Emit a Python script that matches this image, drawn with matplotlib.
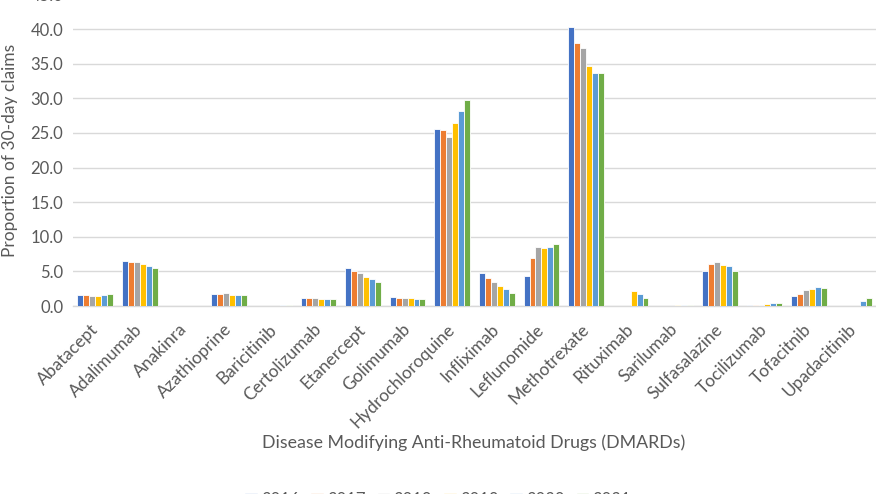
import matplotlib
matplotlib.use("Agg")
import matplotlib.pyplot as plt
import numpy as np

plt.rcParams['font.family'] = ['Lato', 'DejaVu Sans']

drugs = ["Abatacept", "Adalimumab", "Anakinra", "Azathioprine", "Baricitinib",
         "Certolizumab", "Etanercept", "Golimumab", "Hydrochloroquine", "Infliximab",
         "Leflunomide", "Methotrexate", "Rituximab", "Sarilumab", "Sulfasalazine",
         "Tocilizumab", "Tofacitnib", "Upadacitinib"]
years = ["2016", "2017", "2018", "2019", "2020", "2021"]

v2016 = [1.6, 6.5, 0.0, 1.75, 0.0, 1.2, 5.5, 1.25, 25.5, 4.7, 4.4, 40.3, 0.0, 0.0, 5.1, 0.2, 1.4, 0.0]
v2017 = [1.6, 6.4, 0.0, 1.75, 0.0, 1.15, 5.1, 1.2, 25.4, 4.1, 6.9, 38.0, 0.0, 0.03, 6.0, 0.2, 1.8, 0.0]
v2018 = [1.5, 6.3, 0.0, 1.85, 0.02, 1.15, 4.7, 1.2, 24.4, 3.5, 8.5, 37.3, 0.0, 0.05, 6.3, 0.2, 2.3, 0.0]
v2019 = [1.5, 6.1, 0.0, 1.65, 0.05, 1.05, 4.2, 1.1, 26.5, 2.9, 8.4, 34.7, 2.1, 0.08, 5.9, 0.3, 2.5, 0.0]
v2020 = [1.6, 5.8, 0.0, 1.65, 0.1, 1.0, 3.9, 1.0, 28.1, 2.4, 8.5, 33.6, 1.7, 0.08, 5.8, 0.4, 2.7, 0.65]
v2021 = [1.7, 5.5, 0.0, 1.6, 0.15, 1.0, 3.4, 1.0, 29.7, 1.9, 9.0, 33.6, 1.15, 0.08, 5.05, 0.45, 2.6, 1.15]
series = [v2016, v2017, v2018, v2019, v2020, v2021]
colors = ["#4472C4", "#ED7D31", "#A5A5A5", "#FFC000", "#5B9BD5", "#70AD47"]

fig = plt.figure(figsize=(8.76, 4.94), dpi=100)
# axes spans 0..45 with its top slightly above the figure edge (as in the cropped reference)
ax = fig.add_axes([73/876, (494-306)/494, 803/876, (306+5.6)/494])

x = np.arange(len(drugs))
n = len(series)
group = 0.8
bw = group / n
for i, (vals, c, yr) in enumerate(zip(series, colors, years)):
    ax.bar(x - group/2 + bw*(i+0.5), vals, width=bw, color=c, edgecolor='white',
           linewidth=0.6, label=yr, zorder=3)

ax.set_xlim(-0.5, len(drugs)-0.5)
ax.set_ylim(0, 45)
yt = np.arange(0, 45.1, 5)
ax.set_yticks(yt)
ax.set_yticklabels([f"{t:.1f}" for t in yt], fontsize=12, color='#595959')
ax.yaxis.grid(True, color='#D9D9D9', linewidth=1, zorder=0)
ax.set_axisbelow(True)
for s in ['top', 'right', 'left']:
    ax.spines[s].set_visible(False)
ax.spines['bottom'].set_color('#D9D9D9')
ax.spines['bottom'].set_linewidth(1)
ax.tick_params(axis='both', length=0)
ax.tick_params(axis='y', pad=7)
ax.set_xticks(x)
ax.set_xticklabels(drugs, rotation=45, ha='right', va='center', rotation_mode='anchor',
                   fontsize=12.5, color='#595959')
ax.tick_params(axis='x', pad=15)

fig.text(10/876, 1 - 150/494, "Proportion of 30-day claims", rotation=90, ha='center', va='center',
         fontsize=12.5, color='#595959')
fig.text(474/876, 1 - 443/494, "Disease Modifying Anti-Rheumatoid Drugs (DMARDs)", ha='center', va='center',
         fontsize=12.8, color='#595959')

leg = fig.legend(loc='upper center', bbox_to_anchor=(438/876, 1 - 492/494), ncol=6, frameon=False,
                 fontsize=12, handlelength=0.7, handleheight=0.7, columnspacing=0.72, handletextpad=0.25,
                 borderaxespad=0, borderpad=0)
for t in leg.get_texts():
    t.set_color('#595959')

fig.savefig("out.png", dpi=100)
